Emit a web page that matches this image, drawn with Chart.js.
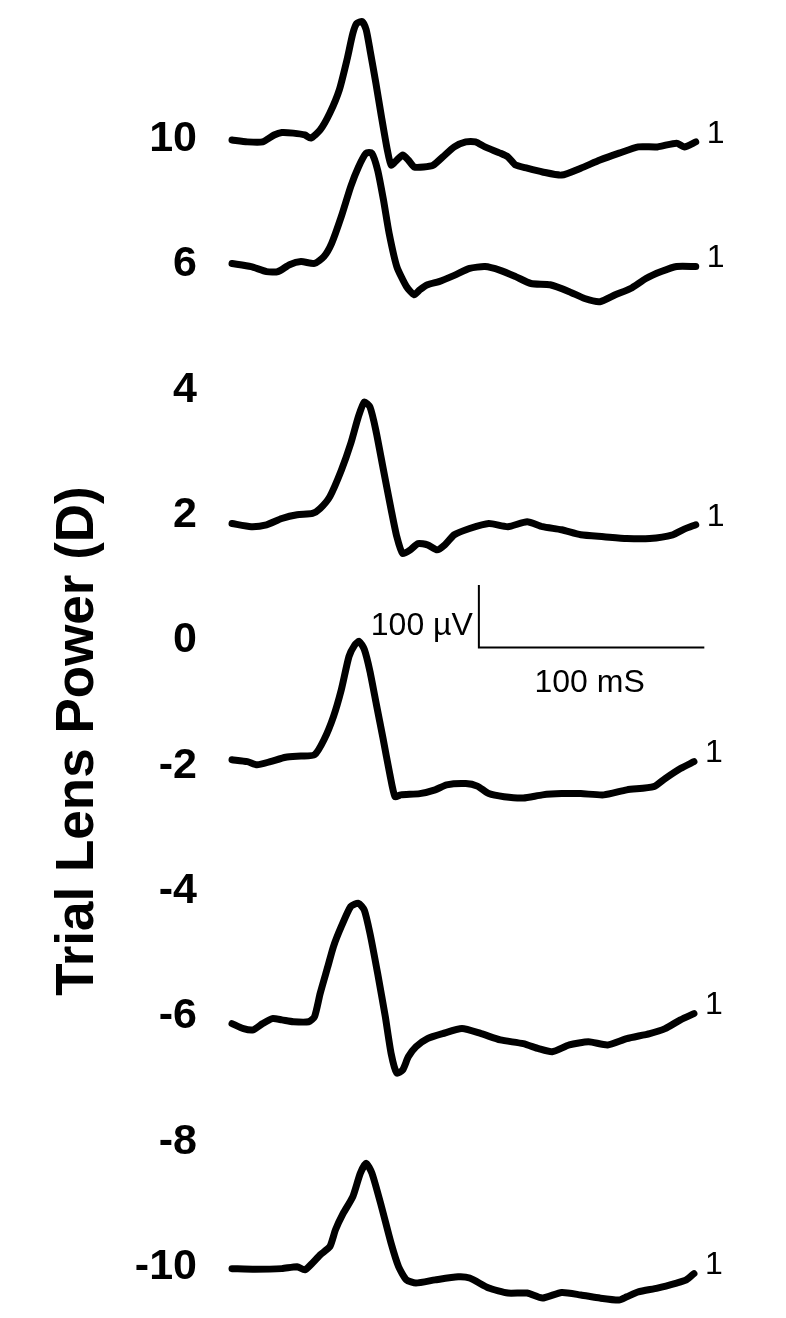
<!DOCTYPE html>
<html lang="en">
<head>
    <meta charset="UTF-8">
    <title>Trial Lens Power traces</title>
    <style>
        html, body { margin: 0; padding: 0; background: #fff; }
        #wrap { width: 786px; height: 1318px; }
    </style>
    <script src="https://cdn.jsdelivr.net/npm/chart.js@4.4.1/dist/chart.umd.min.js"></script>
</head>
<body>
    <div id="wrap"><canvas id="vepChart" width="786" height="1318"></canvas></div>

    <script>
        // row labels down the left side (lens power, D), top to bottom
        const rowLabels = ['10', '6', '4', '2', '0', '-2', '-4', '-6', '-8', '-10'];
        const rowStep = 200; // uV between rows

        // which row each recorded trace sits on
        const traceRows = [0, 1, 3, 5, 7, 9];
        const traceEndLabels = ['1', '1', '1', '1', '1', '1'];

        // traces: [time ms, amplitude uV relative to the row]
        const trace10 = [[0,0],[6.8,-3],[13.6,-3],[18.7,8],[22.1,12],[27.2,11],[32.3,8],[34.9,3],[39.1,16],[43.4,43],[47.6,80],[51,128],[53.6,170],[55.3,186],[57.8,189],[59.5,176],[61.2,144],[63.8,91],[66.3,37],[68.9,-16],[70.6,-40],[73.1,-32],[75.7,-24],[78.2,-32],[80.8,-43],[85,-43],[89.3,-40],[93.5,-27],[98.6,-11],[103.7,-3],[108,-3],[112.2,-11],[119,-21],[122.4,-27],[125.8,-40],[130.9,-45],[137.7,-51],[146.2,-56],[154.7,-45],[163.2,-32],[171.7,-21],[180.2,-11],[188.7,-11],[197.2,-5],[200.6,-11],[205.7,-3]];
        const trace6 = [[0,3],[8.5,-2],[15.3,-10],[20.4,-10],[25.5,1],[30.6,6],[36.6,3],[40.8,14],[44.2,35],[48.5,78],[52.7,126],[56.1,157],[59.5,179],[62,179],[64.6,152],[67.2,104],[69.7,51],[73.1,-2],[77.4,-34],[80.8,-47],[83.3,-39],[86.7,-31],[91.8,-26],[98.6,-16],[105.4,-5],[112.2,-2],[119,-8],[125.8,-18],[132.6,-29],[141.1,-31],[149.6,-42],[156.4,-53],[163.2,-58],[170,-47],[176.8,-37],[183.6,-21],[190.4,-10],[197.2,-2],[205.7,-2]];
        const trace2 = [[0,-12],[8.5,-17],[15.3,-14],[22.1,-4],[28.9,2],[35.7,4],[39.1,12],[43.4,31],[48.5,73],[52.7,116],[56.1,159],[58.7,182],[61.2,174],[63.8,137],[67.2,73],[70.6,10],[73.1,-33],[75.7,-60],[79.1,-54],[82.5,-44],[86.7,-46],[91,-54],[94.4,-46],[98.6,-30],[105.4,-20],[113.9,-12],[122.4,-17],[130.9,-9],[137.7,-17],[146.2,-22],[154.7,-30],[164.9,-33],[175.1,-36],[185.3,-36],[195.5,-30],[200.6,-21],[205.7,-14]];
        const traceM2 = [[0,11],[6.8,8],[11.1,3],[17,8],[23.8,15],[30.6,17],[36.6,19],[40.8,43],[45,80],[48.5,123],[51.9,176],[54.4,194],[56.4,200],[58.7,187],[61.2,152],[64,100],[67,45],[70,-12],[72.3,-48],[74.8,-45],[83.3,-43],[90.1,-37],[95.2,-29],[103.7,-27],[108.8,-31],[113.9,-43],[120.7,-48],[129.2,-50],[137.7,-45],[146.2,-43],[154.7,-43],[164.9,-45],[175.1,-37],[187,-32],[192.1,-19],[198.9,-3],[204.9,8]];
        const traceM6 = [[0,-10],[5.1,-18],[9.4,-20],[13.6,-10],[17.9,-2],[22.1,-4],[27.2,-7],[34,-7],[36.6,1],[39.1,38],[42.5,81],[45,113],[48.5,145],[52.7,177],[56.1,182],[58.7,171],[61.2,134],[64.6,70],[68,1],[70.6,-58],[73.1,-89],[75.7,-84],[78.2,-63],[81.6,-47],[86.7,-34],[93.5,-26],[102,-18],[110.5,-26],[119,-36],[129.2,-42],[136,-50],[142,-55],[149.6,-44],[158.1,-39],[166.6,-44],[175.1,-34],[185.3,-26],[192.1,-18],[198.9,-4],[204.9,6]];
        const traceM10 = [[0,-1],[10.2,-2],[22.1,-1],[28.9,2],[32.3,-3],[35.7,8],[39.1,21],[43.4,34],[45.9,61],[49.3,87],[53.6,114],[56.9,151],[59.5,167],[62.1,151],[66.3,98],[70.6,39],[73.9,2],[77.4,-19],[81.6,-24],[90.1,-19],[100.3,-14],[105.4,-16],[113.9,-32],[122.4,-40],[130.9,-40],[137.7,-48],[146.2,-39],[154.7,-43],[163.2,-48],[171.7,-51],[175.1,-46],[180.2,-38],[188.7,-32],[197.2,-24],[201.5,-19],[204.9,-9]];

        const traces = [trace10, trace6, trace2, traceM2, traceM6, traceM10];

        // calibration bar: corner at (ms, uV), 100 ms by 100 uV
        const barCorner = [109.5, 990];
        const barTime = 100;
        const barAmp = 100;

        function rowValue(row) {
            return (rowLabels.length - 1 - row) * rowStep;
        }

        const FONT = '"Liberation Sans", Arial, sans-serif';

        const datasets = traces.map((pts, i) => ({
            data: pts.map(p => ({ x: p[0], y: rowValue(traceRows[i]) + p[1] })),
            borderColor: '#000',
            borderWidth: 7,
            borderCapStyle: 'round',
            borderJoinStyle: 'round',
            pointRadius: 0,
            tension: 0.2,
            clip: false
        }));

        datasets.push({
            data: [
                { x: barCorner[0], y: barCorner[1] + barAmp },
                { x: barCorner[0], y: barCorner[1] },
                { x: barCorner[0] + barTime, y: barCorner[1] }
            ],
            borderColor: '#000',
            borderWidth: 2,
            pointRadius: 0,
            tension: 0,
            clip: false
        });

        // text that sits around the traces
        const labelsPlugin = {
            id: 'vepLabels',
            afterDatasetsDraw(chart) {
                const ctx = chart.ctx;
                const xs = chart.scales.x;
                const ys = chart.scales.y;
                ctx.save();
                ctx.fillStyle = '#000';

                // row labels
                ctx.font = 'bold 43px ' + FONT;
                ctx.textAlign = 'right';
                ctx.textBaseline = 'alphabetic';
                rowLabels.forEach((lab, i) => {
                    ctx.fillText(lab, 197, ys.getPixelForValue(rowValue(i)) + 11);
                });

                // "1" at the end of each trace
                ctx.font = '32px ' + FONT;
                ctx.textAlign = 'left';
                ctx.textBaseline = 'middle';
                traces.forEach((pts, i) => {
                    const last = pts[pts.length - 1];
                    const px = xs.getPixelForValue(last[0]);
                    const py = ys.getPixelForValue(rowValue(traceRows[i]) + last[1]);
                    ctx.fillText(traceEndLabels[i], px + 11, py - 8);
                });

                // calibration bar text
                const cx = xs.getPixelForValue(barCorner[0]);
                const cy = ys.getPixelForValue(barCorner[1]);
                const cyTop = ys.getPixelForValue(barCorner[1] + barAmp);
                ctx.font = '32px ' + FONT;
                ctx.textAlign = 'right';
                ctx.textBaseline = 'alphabetic';
                ctx.fillText('100 \u00b5V', cx - 6, (cy + cyTop) / 2 + 19);
                ctx.textAlign = 'center';
                ctx.fillText('100 mS', (cx + xs.getPixelForValue(barCorner[0] + barTime)) / 2 - 2, cy + 44);

                // axis title
                ctx.font = 'bold 53px ' + FONT;
                ctx.translate(93, 741);
                ctx.rotate(-Math.PI / 2);
                ctx.textAlign = 'center';
                ctx.textBaseline = 'alphabetic';
                ctx.fillText('Trial Lens Power (D)', 0, 0);
                ctx.restore();
            }
        };

        // 1268 px for the bottom row, 140 px for the top row
        const pxPerUv = (1268 - 140) / rowValue(0);

        new Chart(document.getElementById('vepChart'), {
            type: 'line',
            data: { datasets },
            options: {
                responsive: false,
                animation: false,
                events: [],
                layout: { padding: { left: 232, right: 58, top: 10, bottom: 10 } },
                scales: {
                    x: { type: 'linear', min: 0, max: 220, display: false },
                    y: {
                        type: 'linear',
                        min: -40 / pxPerUv,
                        max: rowValue(0) + 130 / pxPerUv,
                        display: false
                    }
                },
                plugins: {
                    legend: { display: false },
                    tooltip: { enabled: false }
                }
            },
            plugins: [labelsPlugin]
        });
    </script>
</body>
</html>
